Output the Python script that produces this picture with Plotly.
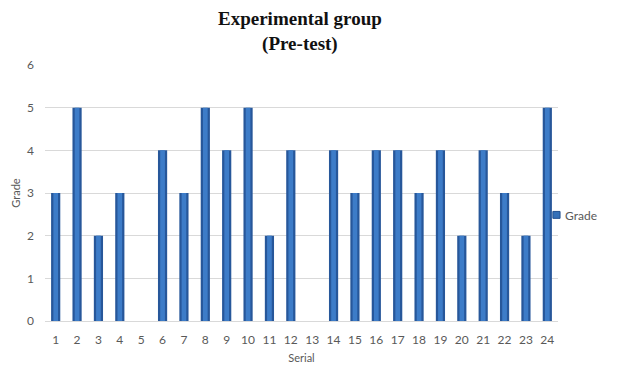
import plotly.graph_objects as go

# Serial numbers of the students and their pre-test grades
serial = [str(i) for i in range(1, 25)]
grade = [3, 5, 2, 3, 0, 4, 3, 5, 4, 5, 2, 4, 0, 4, 3, 4, 4, 3, 4, 2, 4, 3, 2, 5]
y_ticks = [0, 1, 2, 3, 4, 5, 6]

fig = go.Figure()
# Outer (darker) bar body
fig.add_trace(go.Bar(
    x=serial,
    y=grade,
    name="Grade",
    width=0.43,
    marker=dict(color="#27579a", line=dict(width=0)),
    showlegend=False,
    hoverinfo="skip",
))
# Lighter centre strip to give the bars a rounded, shaded look
fig.add_trace(go.Bar(
    x=serial,
    y=grade,
    name="Grade",
    width=0.22,
    marker=dict(color="#3d7cc8", line=dict(width=0)),
    showlegend=False,
))

# Chart title
fig.add_annotation(
    text="<b>Experimental group</b><br><b>(Pre-test)</b>",
    xref="paper", yref="paper",
    x=0.497, y=1.23, xanchor="center", yanchor="top",
    showarrow=False, align="center",
    font=dict(family="Liberation Serif", size=19, color="#111111"),
)

# Legend drawn as a small square and label to the right of the plot
fig.add_shape(
    type="rect", xref="paper", yref="paper",
    x0=0.990, x1=1.004, y0=0.401, y1=0.428,
    fillcolor="#3570b8", line=dict(color="#23508f", width=1),
)
fig.add_annotation(
    text="Grade", xref="paper", yref="paper",
    x=1.010, y=0.414, xanchor="left", yanchor="middle",
    showarrow=False, font=dict(size=12, color="#595959"),
)

fig.update_layout(
    width=624,
    height=365,
    margin=dict(l=45, r=66, t=65, b=44, autoexpand=False),
    paper_bgcolor="white",
    plot_bgcolor="white",
    barmode="overlay",
    showlegend=False,
    font=dict(family="Lato", size=12, color="#595959"),
    xaxis=dict(
        type="category",
        categoryorder="array",
        categoryarray=serial,
        showgrid=False,
        showline=True,
        linecolor="#d9d9d9",
        linewidth=1,
        ticks="",
        ticklabelstandoff=8,
        tickfont=dict(size=12, color="#595959"),
        title=dict(text="Serial", font=dict(size=11, color="#595959"), standoff=7),
    ),
    yaxis=dict(
        range=[0, 6],
        tickvals=y_ticks,
        showgrid=True,
        gridcolor="#d9d9d9",
        gridwidth=1,
        zeroline=False,
        ticks="",
        ticklabelstandoff=10,
        tickfont=dict(size=12, color="#595959"),
        title=dict(text="Grade", font=dict(size=11, color="#595959"), standoff=4),
    ),
)

fig.write_html("out.html")
